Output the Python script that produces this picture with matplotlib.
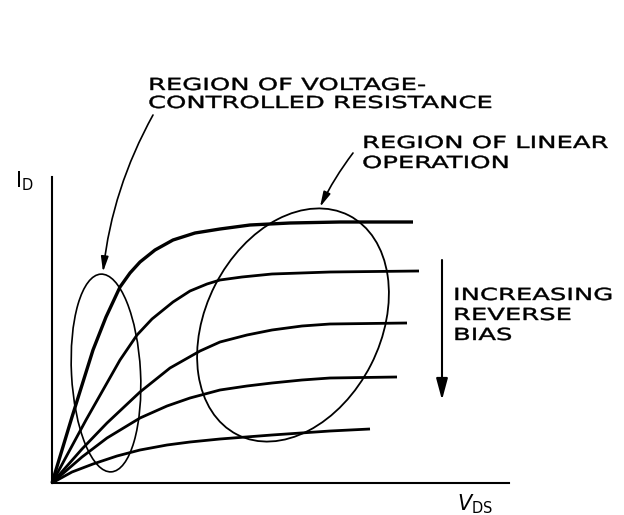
import matplotlib
matplotlib.use("Agg")
import matplotlib.pyplot as plt
from matplotlib.patches import Ellipse
from matplotlib.patheffects import AbstractPathEffect
from matplotlib.transforms import Affine2D

# drain curves, one per gate bias (top = least reverse bias)
vds_1 = [0, 20, 41, 54, 68, 78, 88, 103, 121, 143, 168, 198, 238, 288, 361]
id_1 = [0, 66, 133, 166, 196, 210, 221, 233, 243, 250, 254, 258, 260, 261, 261]
vds_2 = [0, 34, 68, 85, 100, 121, 138, 155, 168, 190, 220, 278, 367]
id_2 = [0, 63, 123, 148, 164, 181, 192, 199, 203, 206, 209, 211, 212]
vds_3 = [0, 30, 55, 88, 118, 148, 168, 195, 220, 250, 278, 355]
id_3 = [0, 34, 60, 91, 115, 132, 141, 148, 153, 157, 159, 160]
vds_4 = [0, 30, 55, 88, 115, 138, 168, 195, 220, 250, 278, 345]
id_4 = [0, 26, 45, 65, 77, 85, 93, 97, 100, 103, 105, 106]
vds_5 = [0, 20, 41, 65, 88, 115, 138, 168, 220, 278, 318]
id_5 = [0, 11, 19, 27, 33, 38, 41, 44, 48, 52, 54]

curves = [(vds_1, id_1, 2.4), (vds_2, id_2, 2.0), (vds_3, id_3, 2.0),
          (vds_4, id_4, 2.0), (vds_5, id_5, 2.0)]


class WideLettering(AbstractPathEffect):
    """Stretch glyphs sideways about the text anchor and thicken the strokes
    a little (drafting-style lettering)."""

    def __init__(self, sx, stroke=0.3):
        super().__init__()
        self._sx = sx
        self._stroke = stroke

    def draw_path(self, renderer, gc, tpath, affine, rgbFace=None):
        tx = affine.get_matrix()[0, 2]
        stretch = Affine2D().translate(-tx, 0).scale(self._sx, 1).translate(tx, 0)
        gc0 = renderer.new_gc()
        gc0.copy_properties(gc)
        gc0.set_linewidth(self._stroke)
        gc0.set_foreground("black")
        renderer.draw_path(gc0, tpath, affine + stretch, rgbFace)
        gc0.restore()


fig = plt.figure(figsize=(6.24, 5.15), dpi=100)
ax = fig.add_axes([52 / 624, 32 / 515, 457 / 624, 306 / 515])
ax.set_xlim(0, 457)
ax.set_ylim(0, 306)

for x, y, lw in curves:
    ax.plot(x, y, color="black", lw=lw, solid_joinstyle="round",
            solid_capstyle="butt", clip_on=False)

# regions
ax.add_patch(Ellipse((54, 110), 69, 198, angle=3, fill=False,
                     lw=1.2, ec="black", clip_on=False))
ax.add_patch(Ellipse((241, 158), 175, 246, angle=-27, fill=False,
                     lw=1.3, ec="black", clip_on=False))

for side in ["top", "right"]:
    ax.spines[side].set_visible(False)
for side in ["left", "bottom"]:
    ax.spines[side].set_linewidth(1.5)
ax.set_xticks([])
ax.set_yticks([])

txt = dict(fontsize=12, color="black", family="DejaVu Sans",
           va="baseline", ha="left", path_effects=[WideLettering(1.55)])

ax.text(96, 393, "REGION OF VOLTAGE-", **txt)
ax.text(96, 375, "CONTROLLED RESISTANCE", **txt)
ax.text(310, 335, "REGION OF LINEAR", **txt)
ax.text(310, 315, "OPERATION", **txt)
ax.text(401, 183, "INCREASING", **txt)
ax.text(401, 163, "REVERSE", **txt)
ax.text(401, 143, "BIAS", **txt)

ax.text(-37, 296, r"$\mathregular{I_D}$", fontsize=15, ha="left",
        va="baseline")
ax.text(405, -27, r"$V_{\mathregular{DS}}$", fontsize=15, ha="left",
        va="baseline")

lead = dict(arrowstyle="-|>,head_length=0.9,head_width=0.22", lw=1.2,
            color="black", shrinkA=0, shrinkB=0)
ax.annotate("", xy=(51, 211), xytext=(101, 368),
            arrowprops=dict(lead, connectionstyle="arc3,rad=0.1"),
            annotation_clip=False)
ax.annotate("", xy=(268, 276), xytext=(301, 330),
            arrowprops=dict(lead, connectionstyle="arc3,rad=0.05"),
            annotation_clip=False)

# bias direction arrow
ax.annotate("", xy=(390, 83), xytext=(390, 223),
            arrowprops=dict(arrowstyle="-|>,head_length=1.3,head_width=0.35",
                            lw=1.5, color="black", shrinkA=0, shrinkB=0),
            annotation_clip=False)

fig.savefig("out.png", dpi=100)
